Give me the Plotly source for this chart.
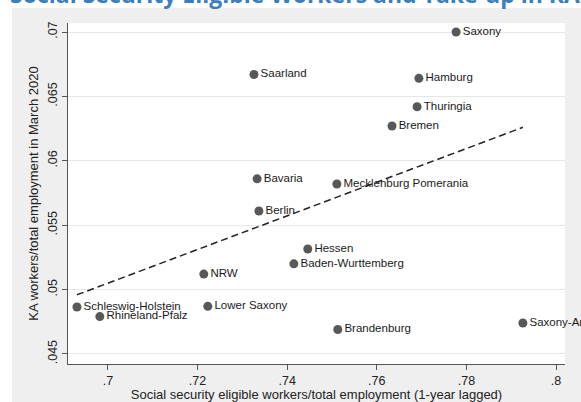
import numpy as np
import plotly.graph_objects as go

states = ["Saxony", "Saarland", "Hamburg", "Thuringia", "Bremen", "Bavaria",
          "Mecklenburg Pomerania", "Berlin", "Hessen", "Baden-Wurttemberg", "NRW",
          "Schleswig-Holstein", "Lower Saxony", "Rhineland-Pfalz", "Brandenburg",
          "Saxony-Anhalt"]
ssw_share = [0.7777, 0.7326, 0.7694, 0.7690, 0.7634, 0.7333,
             0.7511, 0.7337, 0.7446, 0.7415, 0.7214,
             0.6931, 0.7223, 0.6982, 0.7513, 0.7926]
ka_share = [0.0700, 0.0667, 0.0664, 0.0642, 0.0627, 0.0586,
            0.0582, 0.0561, 0.05315, 0.0520, 0.0512,
            0.04865, 0.0487, 0.0479, 0.0469, 0.0474]
x_ticks = [0.70, 0.72, 0.74, 0.76, 0.78, 0.80]
x_tick_labels = [".7", ".72", ".74", ".76", ".78", ".8"]
y_ticks = [0.045, 0.05, 0.055, 0.06, 0.065, 0.07]
y_tick_labels = [".045", ".05", ".055", ".06", ".065", ".07"]

x = np.array(ssw_share)
y = np.array(ka_share)
slope, intercept = np.polyfit(x, y, 1)
fx = np.array([x.min(), x.max()])
fy = intercept + slope * fx

W, H = 581, 402
L, R, T, B = 68, 16, 23, 38
pw, ph = W - L - R, H - T - B

fig = go.Figure()
fig.add_trace(go.Scatter(
    x=fx, y=fy, mode="lines",
    line=dict(color="#222222", width=1.5, dash="7px,4px"),
    hoverinfo="skip", showlegend=False))
fig.add_trace(go.Scatter(
    x=ssw_share, y=ka_share, mode="markers+text", text=states,
    textposition="middle right",
    textfont=dict(family="Liberation Sans, Arial", size=11.5, color="#1a1a1a"),
    marker=dict(color="#585858", size=9),
    showlegend=False, cliponaxis=False))

axis_font = dict(family="Liberation Sans, Arial", size=12.5, color="#222222")
fig.update_layout(
    width=W, height=H,
    margin=dict(l=L, r=R, t=T, b=B),
    paper_bgcolor="#efefef", plot_bgcolor="white",
    title=dict(text="<b>Social Security Eligible Workers and Take-up in KA</b>",
               x=10/W, xanchor="left", xref="container",
               y=1 - 3/H, yanchor="bottom", yref="container",
               font=dict(family="Open Sans", size=23, color="#3d7dbd"),
               automargin=False),
    shapes=[
        dict(type="rect", xref="paper", yref="paper", layer="below",
             x0=-L/pw - 0.1, x1=(12 - L)/pw, y0=-B/ph - 0.1, y1=1 + T/ph + 0.1,
             fillcolor="white", line=dict(width=0)),
        dict(type="rect", xref="paper", yref="paper", layer="below",
             x0=-L/pw - 0.1, x1=1 + R/pw + 0.1, y0=1 + (T - 8)/ph, y1=1 + T/ph + 0.1,
             fillcolor="white", line=dict(width=0)),
    ],
    xaxis=dict(range=[0.6911, 0.802], tickvals=x_ticks, ticktext=x_tick_labels,
               showgrid=False, zeroline=False, showline=True, automargin=False,
               linecolor="#555555", linewidth=1, ticks="outside", ticklen=5,
               tickcolor="#555555", tickfont=axis_font,
               title=dict(text="Social security eligible workers/total employment (1-year lagged)",
                          font=dict(family="Liberation Sans, Arial", size=13, color="#222222"),
                          standoff=2)),
    yaxis=dict(range=[0.04422, 0.0707], tickvals=y_ticks, ticktext=y_tick_labels,
               tickangle=-90, showgrid=True, gridcolor="#e6e6e6", gridwidth=1,
               zeroline=False, showline=True, linecolor="#555555", linewidth=1,
               automargin=False, ticklabelstandoff=0,
               ticks="outside", ticklen=5, tickcolor="#555555", tickfont=axis_font,
               title=dict(text="KA workers/total employment in March 2020",
                          font=dict(family="Liberation Sans, Arial", size=13, color="#222222"),
                          standoff=4)),
)
fig.write_html("out.html",
               config={"displayModeBar": False},
               post_script="document.body.style.margin='0';"
                           "document.body.style.overflow='hidden';")
